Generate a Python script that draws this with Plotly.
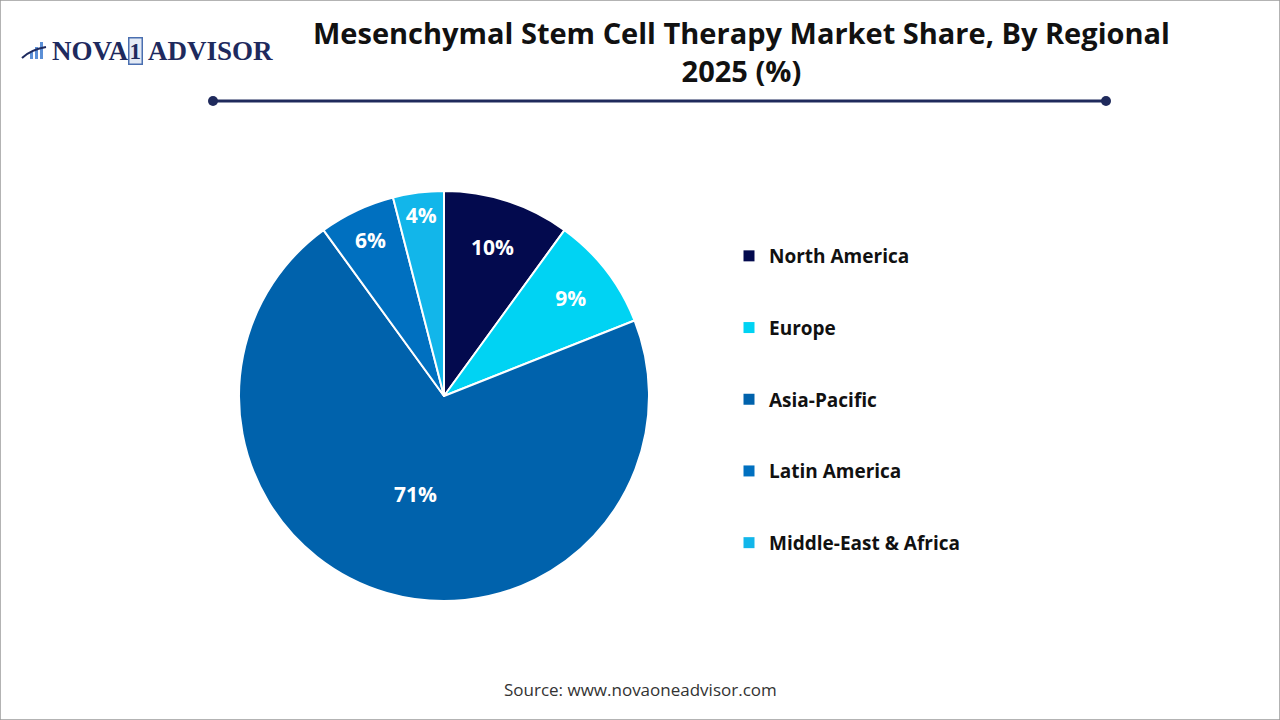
import plotly.graph_objects as go

# Data
regions = ["North America", "Europe", "Asia-Pacific", "Latin America", "Middle-East & Africa"]
shares = [10, 9, 71, 6, 4]
colors = ["#030a4e", "#00d3f3", "#0062ac", "#0070c0", "#12b6ea"]

title_text = "Mesenchymal Stem Cell Therapy Market Share, By Regional<br>2025 (%)"
source_text = "Source: www.novaoneadvisor.com"

W, H = 1280, 720
cx, cy, r = 444, 396, 205

fig = go.Figure()

fig.add_trace(go.Pie(
    labels=regions,
    values=shares,
    sort=False,
    direction="clockwise",
    rotation=0,
    marker=dict(colors=colors, line=dict(color="white", width=2)),
    texttemplate="%{value}%",
    textposition="inside",
    insidetextorientation="horizontal",
    textfont=dict(family="Open Sans", size=21, color="white", weight="bold"),
    showlegend=False,
    hoverinfo="label+percent",
    domain=dict(x=[(cx - r) / W, (cx + r) / W], y=[1 - (cy + r) / H, 1 - (cy - r) / H]),
))

# Legend entries (one group per region for spacing)
for name, col in zip(regions, colors):
    fig.add_trace(go.Scatter(
        x=[None], y=[None], mode="markers", name=name,
        marker=dict(symbol="square", size=11, color=col),
        legendgroup=name, showlegend=True,
    ))

def pa(x, y, text, font, **kw):
    d = dict(text=text, x=x / W, y=1 - y / H, xref="paper", yref="paper",
             showarrow=False, yanchor="middle", font=font)
    d.update(kw)
    return d

logo_font = dict(family="Liberation Serif", size=27, color="#1e2a5e", weight="bold")

fig.update_layout(
    width=W, height=H,
    margin=dict(l=0, r=0, t=0, b=0),
    paper_bgcolor="white",
    plot_bgcolor="white",
    xaxis=dict(visible=False),
    yaxis=dict(visible=False),
    uniformtext=dict(mode="show", minsize=21),
    legend=dict(
        x=729 / W, y=1 - 237 / H, xanchor="left", yanchor="top",
        font=dict(family="Open Sans", size=19, color="#111111", weight="bold"),
        tracegroupgap=44,
        itemwidth=30,
        bgcolor="rgba(0,0,0,0)",
    ),
    annotations=[
        pa(741, 11, title_text, dict(family="Open Sans", size=29, color="#111111", weight="bold"),
           yanchor="top", xanchor="center"),
        pa(640, 689, source_text, dict(family="Open Sans", size=17, color="#333333")),
        pa(50, 51, "NOVA", logo_font, xanchor="left"),
        pa(128, 51, "1", dict(family="Liberation Serif", size=23, color="#1e2a5e", weight="bold"),
           xanchor="left", bordercolor="#4a6fb0", borderwidth=1.5, borderpad=0, bgcolor="#e3eaf5"),
        pa(146, 51, "ADVISOR", logo_font, xanchor="left"),
    ],
    shapes=[
        dict(type="rect", xref="paper", yref="paper", x0=0, y0=0, x1=1, y1=1,
             line=dict(color="#9a9a9a", width=1.5), fillcolor="rgba(0,0,0,0)"),
        dict(type="line", xref="paper", yref="paper", x0=213 / W, x1=1106 / W, y0=1 - 101 / H, y1=1 - 101 / H,
             line=dict(color="#1f2a5c", width=3)),
        dict(type="circle", xref="paper", yref="paper", x0=208 / W, x1=218 / W, y0=1 - 106 / H, y1=1 - 96 / H,
             line=dict(width=0), fillcolor="#1f2a5c"),
        dict(type="circle", xref="paper", yref="paper", x0=1101 / W, x1=1111 / W, y0=1 - 106 / H, y1=1 - 96 / H,
             line=dict(width=0), fillcolor="#1f2a5c"),
        # logo bars
        dict(type="rect", xref="paper", yref="paper", x0=30 / W, x1=33 / W, y0=1 - 59 / H, y1=1 - 52 / H,
             line=dict(width=0), fillcolor="#5b8fd6"),
        dict(type="rect", xref="paper", yref="paper", x0=35 / W, x1=38 / W, y0=1 - 59 / H, y1=1 - 47 / H,
             line=dict(width=0), fillcolor="#5b8fd6"),
        dict(type="rect", xref="paper", yref="paper", x0=40 / W, x1=43 / W, y0=1 - 59 / H, y1=1 - 42 / H,
             line=dict(width=0), fillcolor="#5b8fd6"),
        dict(type="path", xref="paper", yref="paper",
             path=f"M {22/W},{1-58/H} Q {30/W},{1-50/H} {46/W},{1-47/H}",
             line=dict(color="#1e2a5e", width=2)),
    ],
)

fig.write_html("out.html")
